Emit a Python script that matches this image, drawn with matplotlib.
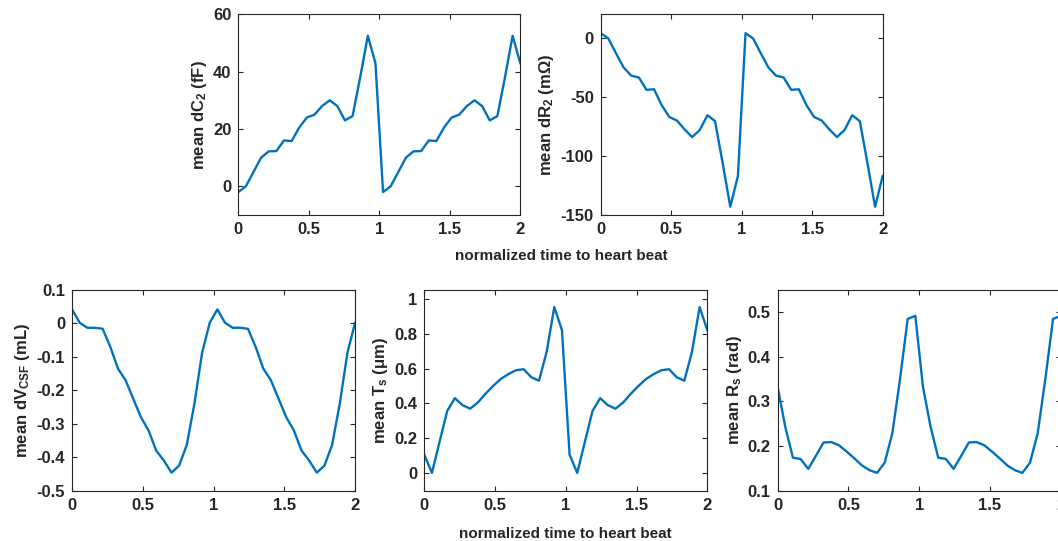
import numpy as np
import matplotlib
matplotlib.use("Agg")
import matplotlib.pyplot as plt
from matplotlib.ticker import FormatStrFormatter

plt.rcParams['font.family'] = ['Liberation Sans', 'DejaVu Sans']
plt.rcParams['font.weight'] = 'bold'
plt.rcParams['mathtext.fontset'] = 'custom'
plt.rcParams['mathtext.rm'] = 'Liberation Sans:bold'
plt.rcParams['mathtext.it'] = 'Liberation Sans:bold'
plt.rcParams['mathtext.default'] = 'rm'
plt.rcParams['axes.unicode_minus'] = False

# normalized time (two heart beats, 38 samples)
t = np.linspace(0, 2, 38)

dC2 = [-2, 0, 5, 10, 12.2, 12.3, 16, 15.8, 20.5, 24, 25, 28, 30, 28, 23, 24.5, 38, 52.5, 43,
       -2, 0, 5, 10, 12.2, 12.3, 16, 15.8, 20.5, 24, 25, 28, 30, 28, 23, 24.5, 38, 52.5, 43]
dR2 = [4, -0.5, -13, -25, -32, -33.5, -44, -43.5, -57, -67, -70, -77.5, -84, -78, -65.5, -70.5, -106, -143, -117,
       4, -0.5, -13, -25, -32, -33.5, -44, -43.5, -57, -67, -70, -77.5, -84, -78, -65.5, -70.5, -106, -143, -117]
dVCSF = [0.042, 0.002, -0.013, -0.013, -0.016, -0.07, -0.135, -0.17, -0.225, -0.28, -0.32, -0.38, -0.41,
         -0.446, -0.425, -0.363, -0.24, -0.088, 0.002,
         0.042, 0.002, -0.013, -0.013, -0.016, -0.07, -0.135, -0.17, -0.225, -0.28, -0.32, -0.38, -0.41,
         -0.446, -0.425, -0.363, -0.24, -0.088, 0.002]
Ts = [0.106, 0.002, 0.18, 0.357, 0.43, 0.39, 0.37, 0.405, 0.455, 0.50, 0.54, 0.568, 0.59, 0.596, 0.55, 0.53,
      0.695, 0.952, 0.82,
      0.106, 0.002, 0.18, 0.357, 0.43, 0.39, 0.37, 0.405, 0.455, 0.50, 0.54, 0.568, 0.59, 0.596, 0.55, 0.53,
      0.695, 0.952, 0.82]
Rs = [0.333, 0.243, 0.174, 0.171, 0.149, 0.178, 0.208, 0.209, 0.202, 0.188, 0.173, 0.157, 0.146, 0.14,
      0.163, 0.229, 0.35, 0.485, 0.492,
      0.333, 0.243, 0.174, 0.171, 0.149, 0.178, 0.208, 0.209, 0.202, 0.188, 0.173, 0.157, 0.146, 0.14,
      0.163, 0.229, 0.35, 0.485, 0.492]

xticks = [0, 0.5, 1, 1.5, 2]
xlabel_text = 'normalized time to heart beat'

panels = [
    # data, ylabel, ylim, yticks, rect
    (dC2, r'mean dC$_2$ (fF)', (-10, 60), [0, 20, 40, 60], [0.2252, 0.6026, 0.2665, 0.371]),
    (dR2, r'mean dR$_2$ (mΩ)', (-150, 20), [-150, -100, -50, 0], [0.5678, 0.6026, 0.2665, 0.371]),
    (dVCSF, r'mean dV$_{CSF}$ (mL)', (-0.5, 0.1), [-0.5, -0.4, -0.3, -0.2, -0.1, 0, 0.1], [0.0681, 0.093, 0.2675, 0.371]),
    (Ts, r'mean T$_s$ (μm)', (-0.1, 1.05), [0, 0.2, 0.4, 0.6, 0.8, 1], [0.401, 0.093, 0.2675, 0.371]),
    (Rs, r'mean R$_s$ (rad)', (0.1, 0.55), [0.1, 0.2, 0.3, 0.4, 0.5], [0.735, 0.093, 0.2675, 0.371]),
]

fig = plt.figure(figsize=(10.58, 5.41), dpi=100)
edge = '#262626'
axes = []
for data, ylab, ylim, yt, rect in panels:
    ax = fig.add_axes(rect)
    ax.plot(t, data, color='#0072BD', lw=1.7)
    ax.set_xlim(0, 2)
    ax.set_ylim(*ylim)
    ax.set_xticks(xticks)
    ax.set_yticks(yt)
    ax.xaxis.set_major_formatter(FormatStrFormatter('%g'))
    ax.yaxis.set_major_formatter(FormatStrFormatter('%g'))
    ax.tick_params(direction='in', length=3.5, width=0.8, top=True, right=True,
                   labelsize=12, colors=edge, pad=5)
    for s in ax.spines.values():
        s.set_color(edge)
        s.set_linewidth(0.8)
    ax.set_ylabel(ylab, fontsize=12, fontweight='bold', color=edge, labelpad=3)
    axes.append(ax)

axes[3].set_xlabel(xlabel_text, fontsize=11, fontweight='bold', color=edge, labelpad=10)
fig.text(561 / 1058, 1 - 256 / 541, xlabel_text, ha='center', va='center',
         fontsize=11, fontweight='bold', color=edge)

fig.savefig('out.png', dpi=100)
